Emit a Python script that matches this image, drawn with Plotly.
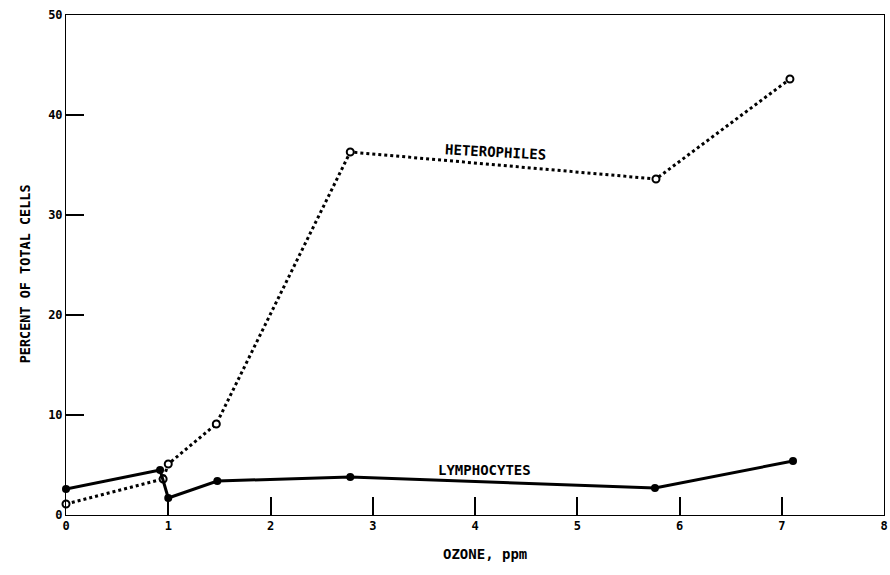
import plotly.graph_objects as go

# Ozone exposure (ppm) and cell percentages
ozone_lymph = [0.0, 0.92, 1.0, 1.48, 2.78, 5.76, 7.11]
lymphocytes = [2.6, 4.5, 1.7, 3.4, 3.8, 2.7, 5.4]

ozone_hetero = [0.0, 0.95, 1.0, 1.47, 2.78, 5.77, 7.08]
heterophiles = [1.1, 3.6, 5.1, 9.1, 36.3, 33.6, 43.6]

x_range = [0, 8]
y_range = [0, 50]

FONT = "DejaVu Sans Mono"

fig = go.Figure()

fig.add_trace(go.Scatter(
    x=ozone_hetero, y=heterophiles, mode="lines+markers",
    line=dict(color="black", width=3, dash="dot"),
    marker=dict(symbol="circle", size=7, color="white",
                line=dict(color="black", width=2)),
    cliponaxis=False, showlegend=False,
))

fig.add_trace(go.Scatter(
    x=ozone_lymph, y=lymphocytes, mode="lines+markers",
    line=dict(color="black", width=3),
    marker=dict(symbol="circle", size=8, color="black"),
    cliponaxis=False, showlegend=False,
))

tick_style = dict(ticks="inside", ticklen=18, tickwidth=2, tickcolor="black",
                  showgrid=False, zeroline=False)

fig.update_layout(
    template="simple_white",
    width=890, height=575,
    margin=dict(l=66, r=2, t=15, b=60),
    paper_bgcolor="white", plot_bgcolor="white",
    xaxis=dict(range=x_range, dtick=1, showline=True, linecolor="black",
               mirror=True, ticklabeloverflow="allow",
               tickfont=dict(family=FONT, size=12, color="black", weight="bold"),
               **tick_style),
    yaxis=dict(range=y_range, dtick=10, showline=True, linecolor="black",
               mirror=True,
               tickfont=dict(family=FONT, size=12, color="black", weight="bold"),
               **tick_style),
    # tick marks repeated along the top and right edges of the frame
    xaxis2=dict(range=x_range, dtick=1, overlaying="x", side="top", anchor="y",
                showticklabels=False, showline=False, **tick_style),
    yaxis2=dict(range=y_range, dtick=10, overlaying="y", side="right", anchor="x",
                showticklabels=False, showline=False, **tick_style),
)

fig.add_annotation(x=4.2, y=36.3, text="HETEROPHILES", showarrow=False,
                   textangle=3,
                   font=dict(family=FONT, size=14, color="black", weight="bold"))
fig.add_annotation(x=4.09, y=4.5, text="LYMPHOCYTES", showarrow=False,
                   font=dict(family=FONT, size=14, color="black", weight="bold"))

fig.add_annotation(xref="paper", yref="paper", x=0.512, y=-0.098,
                   text="OZONE, ppm", showarrow=False,
                   font=dict(family=FONT, size=14, color="black", weight="bold"))
fig.add_annotation(xref="paper", yref="paper", x=-0.062, y=0.482,
                   text="PERCENT OF TOTAL CELLS", showarrow=False, textangle=-90,
                   font=dict(family=FONT, size=13.5, color="black", weight="bold"))

fig.write_html("out.html")
